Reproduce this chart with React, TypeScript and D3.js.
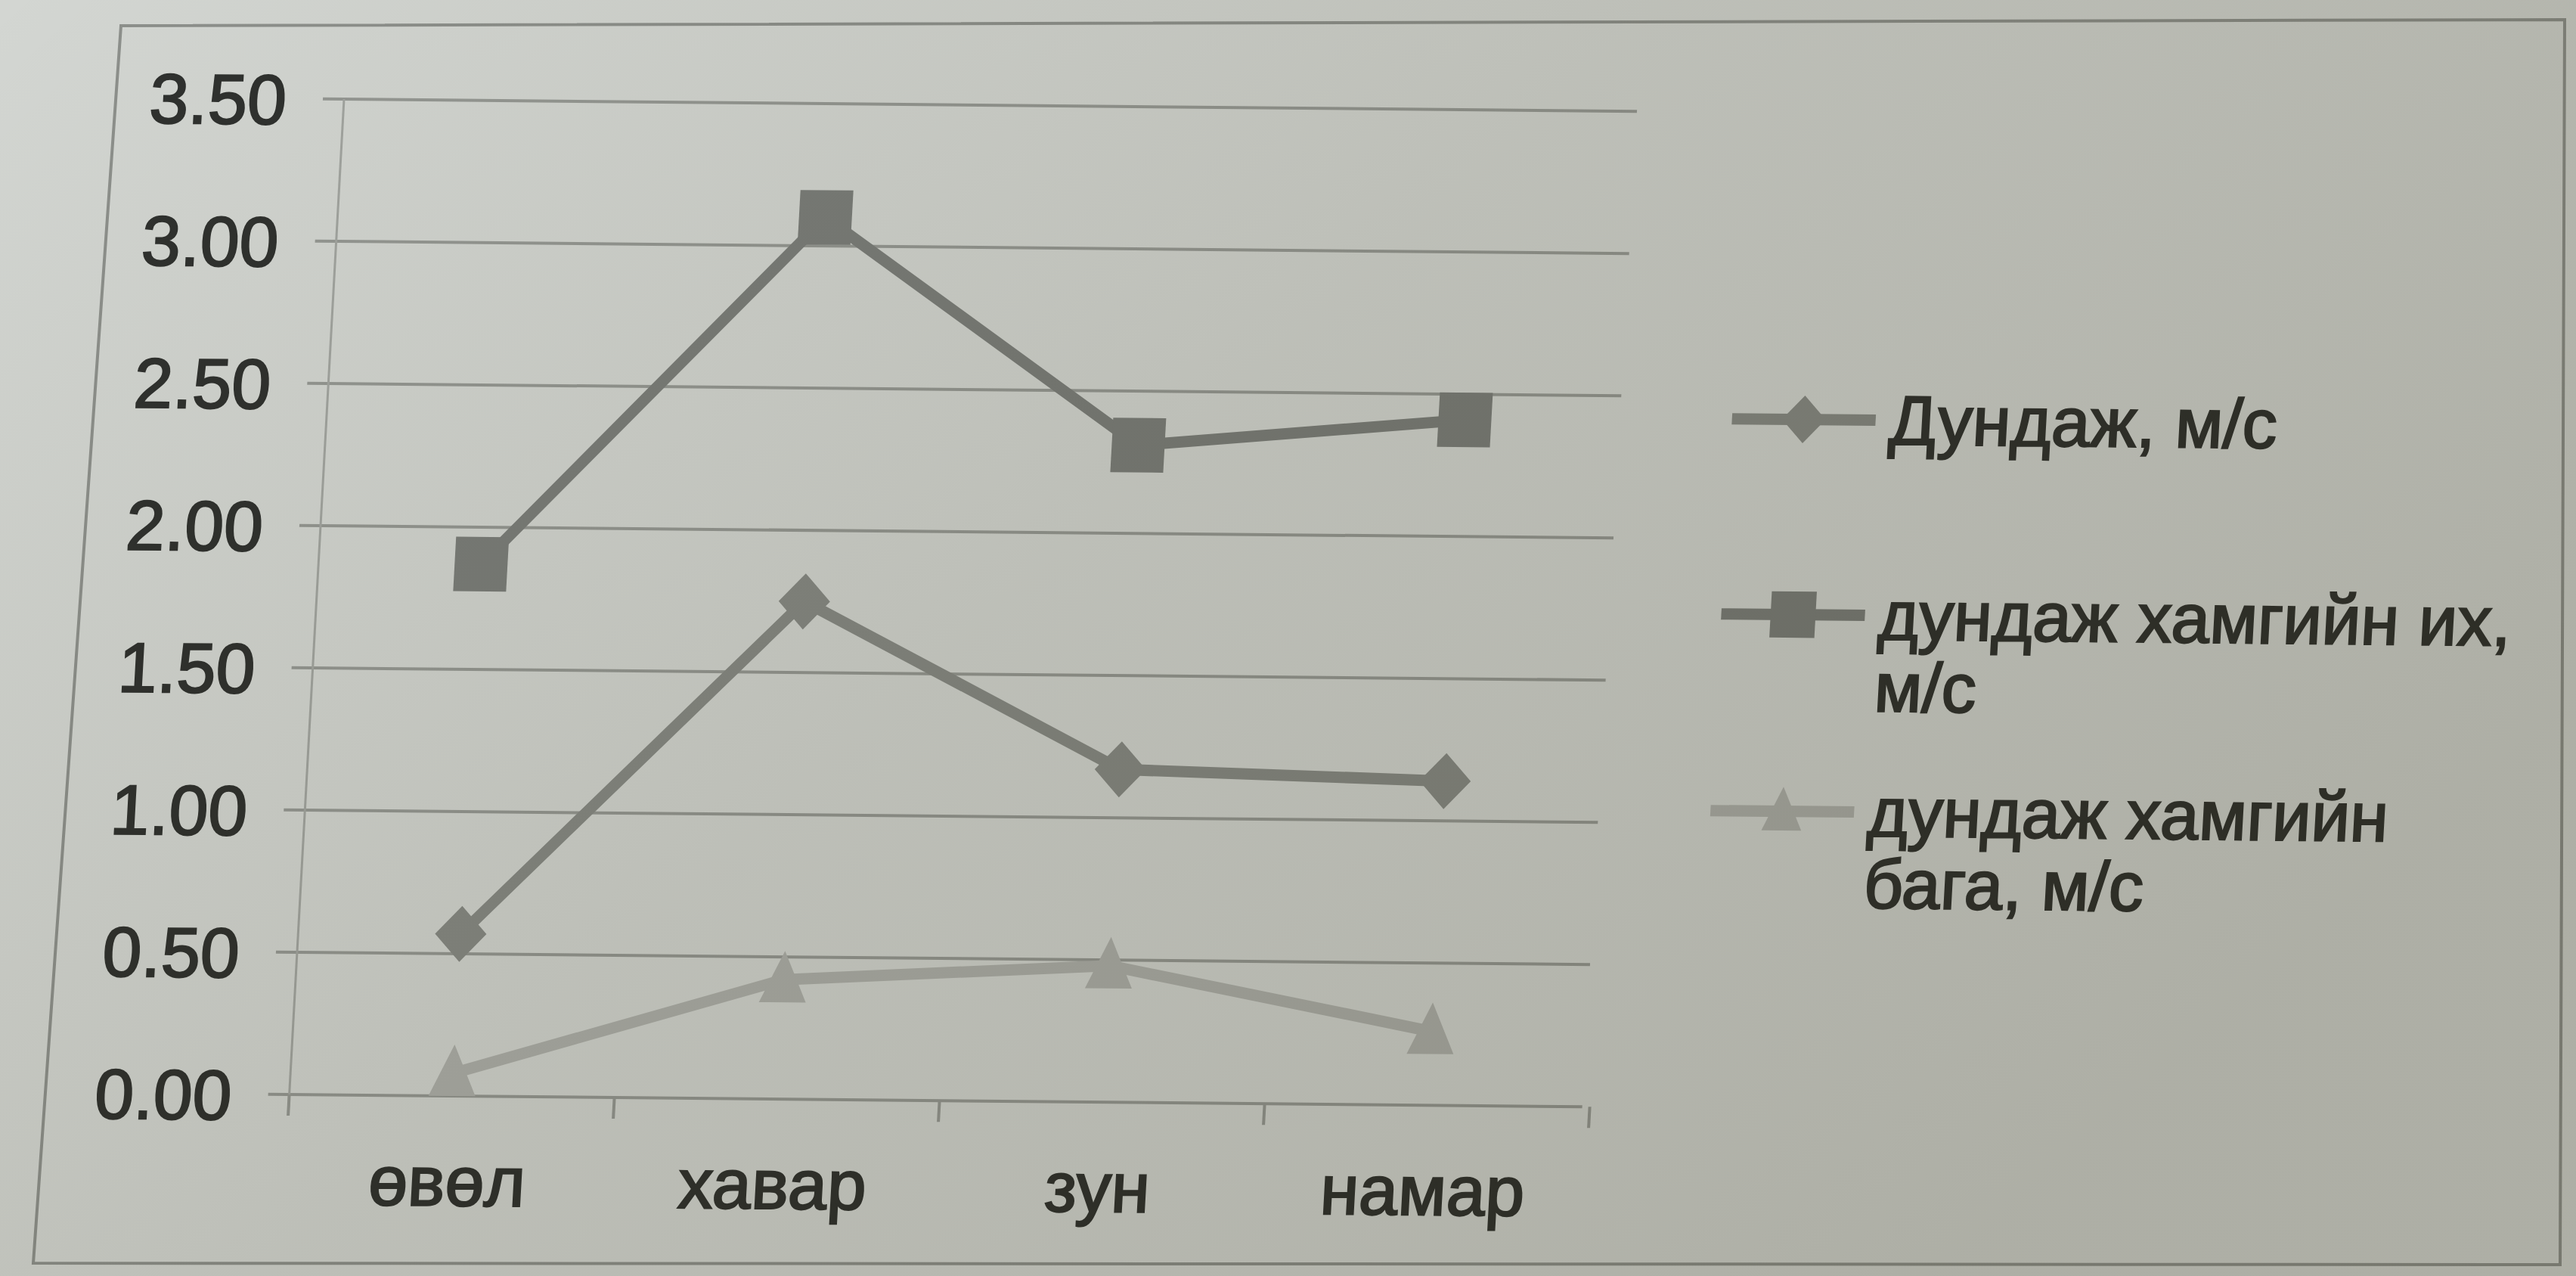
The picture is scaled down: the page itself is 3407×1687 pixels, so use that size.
import React from 'react';
import * as d3 from 'd3';

// Seasonal wind speed, m/s
const categories = ['өвөл', 'хавар', 'зун', 'намар'];
const meanSpeed = [0.57, 1.75, 1.17, 1.14];
const maxSpeed = [1.87, 3.1, 2.31, 2.41];
const minSpeed = [0.08, 0.42, 0.48, 0.26];
const yTicks = [0, 0.5, 1, 1.5, 2, 2.5, 3, 3.5];
const meanLabel = ['Дундаж, м/с'];
const maxLabel = ['дундаж хамгийн их,', 'м/с'];
const minLabel = ['дундаж хамгийн', 'бага, м/с'];

const W = 3407;
const H = 1687;
const PW = 1720;
const PH = 1316;
const FONT = '"Liberation Sans", Arial, sans-serif';
const TEXT = '#2f312f';

type Marker = 'diamond' | 'square' | 'triangle';

function markerPath(kind: Marker): string {
  if (kind === 'square') {
    const p = d3.path();
    p.rect(-35, -36, 70, 72);
    return p.toString();
  }
  const p = d3.path();
  if (kind === 'diamond') {
    p.moveTo(0, -37);
    p.lineTo(34, 0);
    p.lineTo(0, 37);
    p.lineTo(-34, 0);
  } else {
    p.moveTo(0, -38);
    p.lineTo(31, 30);
    p.lineTo(-31, 30);
  }
  p.closePath();
  return p.toString();
}

const series = [
  { name: meanLabel, values: meanSpeed, marker: 'diamond' as Marker, color: '#878a86' },
  { name: maxLabel, values: maxSpeed, marker: 'square' as Marker, color: '#7b7e7b' },
  { name: minLabel, values: minSpeed, marker: 'triangle' as Marker, color: '#aeb0ac' },
];

const textStyle = {
  fontFamily: FONT,
  fill: TEXT,
  stroke: TEXT,
  strokeWidth: 2.2,
};

export default function App() {
  const x = d3.scaleBand<string>().domain(categories).range([0, PW]);
  const y = d3.scaleLinear().domain([0, 3.5]).range([PH, 0]);
  const cx = (c: string) => (x(c) ?? 0) + x.bandwidth() / 2;
  const line = d3
    .line<number>()
    .x((_, i) => cx(categories[i]))
    .y((v) => y(v));

  const boundaries = [...categories.map((c) => x(c) ?? 0), PW];

  // legend layout: first-line baselines of each entry
  const legendX = 2066;
  const legendBase = [437, 695, 955];
  const lineGap = 95;

  return (
    <svg
      width={W}
      height={H}
      viewBox={`0 0 ${W} ${H}`}
      style={{ position: 'absolute', left: 0, top: 0, display: 'block' }}
    >
      <defs>
        <linearGradient id="shade" x1="0" y1="0" x2="1" y2="0.55">
          <stop offset="0" stopColor="#2a2408" stopOpacity={0} />
          <stop offset="0.5" stopColor="#2a2408" stopOpacity={0.13} />
          <stop offset="1" stopColor="#2a2408" stopOpacity={0.22} />
        </linearGradient>
      </defs>
      <rect x={0} y={0} width={W} height={H} fill="#d3d6d2" />

      {/* chart frame */}
      <polygon
        points="160,34 3392,26 3386,1672 44,1670"
        fill="none"
        stroke="#8d908c"
        strokeWidth={4}
      />

      <g transform="translate(455,131) matrix(1,0.0095,-0.055,1,0,0)">
        {/* horizontal gridlines with outer ticks */}
        {yTicks.map((t) => (
          <line
            key={`g${t}`}
            x1={-28}
            x2={PW - 10}
            y1={y(t)}
            y2={y(t)}
            stroke="#959894"
            strokeWidth={4}
          />
        ))}
        {/* value axis line */}
        <line x1={0} x2={0} y1={0} y2={PH + 24} stroke="#a2a5a1" strokeWidth={3} />
        {/* category tick marks */}
        {boundaries.map((b, i) => (
          <line key={`t${i}`} x1={b} x2={b} y1={PH} y2={PH + 28} stroke="#959894" strokeWidth={4} />
        ))}

        {/* y tick labels */}
        {yTicks.map((t) => (
          <text key={`l${t}`} x={-76} y={y(t) + 34} textAnchor="end" fontSize={93} {...textStyle}>
            {t.toFixed(2)}
          </text>
        ))}

        {/* category labels */}
        {categories.map((c) => (
          <text key={c} x={cx(c)} y={PH + 145} textAnchor="middle" fontSize={93} {...textStyle}>
            {c}
          </text>
        ))}

        {/* series lines and markers */}
        {series.map((s) => (
          <g key={s.name.join(' ')}>
            <path
              d={line(s.values) ?? ''}
              fill="none"
              stroke={s.color}
              strokeWidth={15}
              strokeLinejoin="round"
            />
            {s.values.map((v, i) => (
              <path
                key={i}
                d={markerPath(s.marker)}
                transform={`translate(${cx(categories[i])},${y(v)})`}
                fill={s.color}
              />
            ))}
          </g>
        ))}

        {/* legend */}
        {series.map((s, k) => {
          const base = legendBase[k];
          const ly = base - 32;
          return (
            <g key={`lg${k}`}>
              <line x1={legendX - 208} x2={legendX - 18} y1={ly} y2={ly} stroke={s.color} strokeWidth={15} />
              <path
                d={markerPath(s.marker)}
                transform={`translate(${legendX - 113},${ly}) scale(0.85)`}
                fill={s.color}
              />
              {s.name.map((txt, j) => (
                <text key={j} x={legendX} y={base + j * lineGap} fontSize={92} {...textStyle}>
                  {txt}
                </text>
              ))}
            </g>
          );
        })}
      </g>

      {/* uneven lighting across the sheet */}
      <rect x={0} y={0} width={W} height={H} fill="url(#shade)" pointerEvents="none" />
    </svg>
  );
}
